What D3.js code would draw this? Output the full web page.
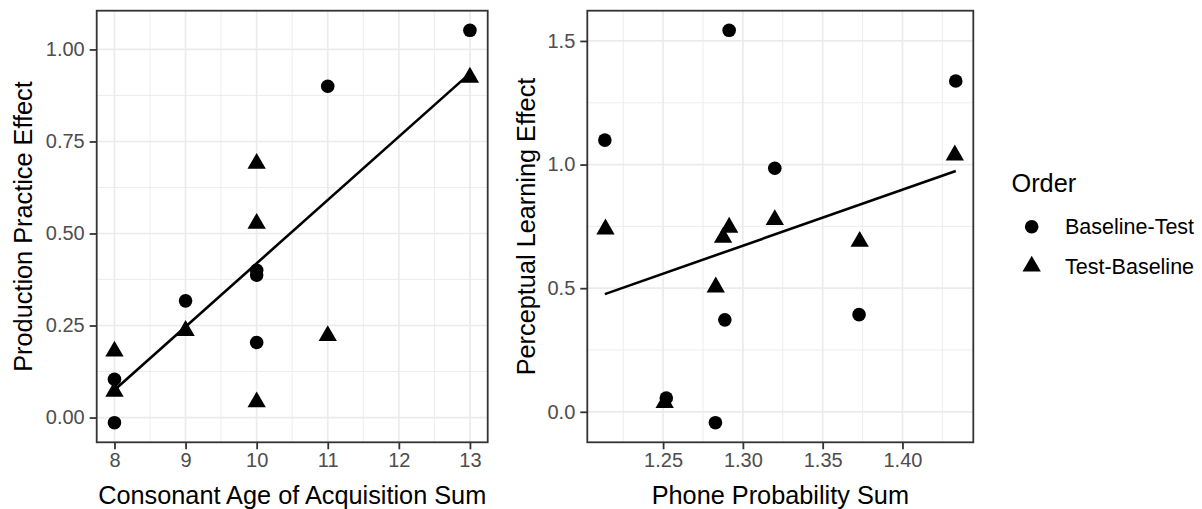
<!DOCTYPE html>
<html>
<head>
<meta charset="utf-8">
<script src="https://cdn.jsdelivr.net/npm/d3@7"></script>
<style>
  body { margin: 0; background: #fff; }
  svg text { font-family: "Liberation Sans", Arial, sans-serif; }
</style>
</head>
<body>
<div id="chart"></div>
<script>
// left panel data (Production Practice)
var leftBTx = [13, 11, 10, 10, 9, 10, 8, 8];
var leftBTy = [1.052, 0.900, 0.400, 0.387, 0.317, 0.204, 0.104, -0.014];
var leftTBx = [13, 10, 10, 9, 11, 8, 8, 10];
var leftTBy = [0.924, 0.690, 0.527, 0.236, 0.222, 0.180, 0.071, 0.042];
var leftFitX = [8, 13];
var leftFitY = [0.075, 0.935];
var leftXTicks = [8, 9, 10, 11, 12, 13];
var leftYTicks = [0, 0.25, 0.5, 0.75, 1];

// right panel data (Perceptual Learning)
var rightBTx = [1.2914, 1.4334, 1.2135, 1.3200, 1.2887, 1.3728, 1.2520, 1.2828];
var rightBTy = [1.543, 1.338, 1.099, 0.985, 0.372, 0.393, 0.056, -0.044];
var rightTBx = [1.4328, 1.2139, 1.2914, 1.2876, 1.3200, 1.3732, 1.2830, 1.2510];
var rightTBy = [1.038, 0.739, 0.746, 0.705, 0.777, 0.689, 0.504, 0.037];
var rightFitX = [1.2135, 1.4334];
var rightFitY = [0.476, 0.974];
var rightXTicks = [1.25, 1.30, 1.35, 1.40];
var rightYTicks = [0, 0.5, 1, 1.5];

var orderLevels = ["Baseline-Test", "Test-Baseline"];

var W = 1202, H = 509;
var R = 6.8; // point radius
var triSize = Math.pow(1.3468 * R / Math.sqrt(3), 2) * 3 * Math.sqrt(3);
var tickCol = "#4D4D4D", gridCol = "#EBEBEB", borderCol = "#333333";

var svg = d3.select('#chart').append('svg')
    .attr('width', W)
    .attr('height', H);

var zip = function (xs, ys, g) {
    return xs.map(function (x, i) { return { x: x, y: ys[i], g: g }; });
};

var padded = function (vals) {
    var e = d3.extent(vals), p = (e[1] - e[0]) * 0.05;
    return [e[0] - p, e[1] + p];
};

var drawPanel = function (o) {
    var pts = zip(o.btx, o.bty, 0).concat(zip(o.tbx, o.tby, 1));
    var x = d3.scaleLinear().domain(padded(pts.map(function (d) { return d.x; }))).range([o.x0, o.x1]);
    var y = d3.scaleLinear().domain(padded(pts.map(function (d) { return d.y; }))).range([o.y1, o.y0]);
    var g = svg.append('g');

    // minor grid at midpoints
    var mid = function (t) {
        var m = [];
        for (var i = 0; i < t.length - 1; i++) m.push((t[i] + t[i + 1]) / 2);
        var s = t[1] - t[0];
        m.unshift(t[0] - s / 2);
        m.push(t[t.length - 1] + s / 2);
        return m;
    };
    var dx = x.domain(), dy = y.domain();
    var mx = mid(o.xt).filter(function (v) { return v >= dx[0] && v <= dx[1]; });
    var my = mid(o.yt).filter(function (v) { return v >= dy[0] && v <= dy[1]; });

    g.selectAll('line.mx').data(mx).enter().append('line')
        .attr('x1', x).attr('x2', x).attr('y1', o.y0).attr('y2', o.y1)
        .attr('stroke', gridCol).attr('stroke-width', 0.9);
    g.selectAll('line.my').data(my).enter().append('line')
        .attr('y1', y).attr('y2', y).attr('x1', o.x0).attr('x2', o.x1)
        .attr('stroke', gridCol).attr('stroke-width', 0.9);
    g.selectAll('line.gx').data(o.xt).enter().append('line')
        .attr('x1', x).attr('x2', x).attr('y1', o.y0).attr('y2', o.y1)
        .attr('stroke', gridCol).attr('stroke-width', 1.7);
    g.selectAll('line.gy').data(o.yt).enter().append('line')
        .attr('y1', y).attr('y2', y).attr('x1', o.x0).attr('x2', o.x1)
        .attr('stroke', gridCol).attr('stroke-width', 1.7);

    // fit line
    g.append('path')
        .datum(zip(o.fx, o.fy, 0))
        .attr('d', d3.line().x(function (d) { return x(d.x); }).y(function (d) { return y(d.y); }))
        .attr('fill', 'none').attr('stroke', '#000').attr('stroke-width', 2.6);

    // points
    g.selectAll('circle.p').data(pts.filter(function (d) { return d.g === 0; }))
        .enter().append('circle')
        .attr('cx', function (d) { return x(d.x); })
        .attr('cy', function (d) { return y(d.y); })
        .attr('r', R).attr('fill', '#000');
    g.selectAll('path.t').data(pts.filter(function (d) { return d.g === 1; }))
        .enter().append('path')
        .attr('d', d3.symbol().type(d3.symbolTriangle).size(triSize))
        .attr('transform', function (d) { return 'translate(' + x(d.x) + ',' + y(d.y) + ')'; })
        .attr('fill', '#000');

    // border
    g.append('rect')
        .attr('x', o.x0).attr('y', o.y0)
        .attr('width', o.x1 - o.x0).attr('height', o.y1 - o.y0)
        .attr('fill', 'none').attr('stroke', borderCol).attr('stroke-width', 1.8);

    // axes
    var xa = g.append('g').attr('transform', 'translate(0,' + o.y1 + ')')
        .call(d3.axisBottom(x).tickValues(o.xt).tickFormat(d3.format(o.xf)).tickSize(7).tickPadding(4));
    var ya = g.append('g').attr('transform', 'translate(' + o.x0 + ',0)')
        .call(d3.axisLeft(y).tickValues(o.yt).tickFormat(d3.format(o.yf)).tickSize(7).tickPadding(5));
    [xa, ya].forEach(function (a) {
        a.select('.domain').remove();
        a.selectAll('.tick line').attr('stroke', borderCol).attr('stroke-width', 1.8);
        a.selectAll('.tick text').attr('fill', tickCol)
            .style('font-size', '20px').style('font-family', '"Liberation Sans", Arial, sans-serif');
    });
    xa.selectAll('.tick text').attr('dy', '0.71em');

    // titles
    g.append('text')
        .attr('x', (o.x0 + o.x1) / 2).attr('y', 504)
        .attr('text-anchor', 'middle').style('font-size', '25.3px')
        .text(o.xtitle);
    g.append('text')
        .attr('transform', 'translate(' + o.ytx + ',' + ((o.y0 + o.y1) / 2) + ') rotate(-90)')
        .attr('text-anchor', 'middle').style('font-size', '25.3px')
        .text(o.ytitle);
};

drawPanel({
    x0: 96.7, x1: 487.7, y0: 10.7, y1: 442.3,
    btx: leftBTx, bty: leftBTy, tbx: leftTBx, tby: leftTBy,
    fx: leftFitX, fy: leftFitY,
    xt: leftXTicks, yt: leftYTicks, xf: 'd', yf: '.2f',
    xtitle: 'Consonant Age of Acquisition Sum',
    ytitle: 'Production Practice Effect', ytx: 32
});

drawPanel({
    x0: 587.3, x1: 973.3, y0: 10.7, y1: 442.3,
    btx: rightBTx, bty: rightBTy, tbx: rightTBx, tby: rightTBy,
    fx: rightFitX, fy: rightFitY,
    xt: rightXTicks, yt: rightYTicks, xf: '.2f', yf: '.1f',
    xtitle: 'Phone Probability Sum',
    ytitle: 'Perceptual Learning Effect', ytx: 535
});

// legend
var leg = svg.append('g');
leg.append('text').attr('x', 1011.5).attr('y', 191.5)
    .style('font-size', '25.3px').text('Order');
var keyY = [226.7, 266.2];
leg.append('circle').attr('cx', 1031.7).attr('cy', keyY[0]).attr('r', R).attr('fill', '#000');
leg.append('path')
    .attr('d', d3.symbol().type(d3.symbolTriangle).size(triSize))
    .attr('transform', 'translate(1031.7,' + keyY[1] + ')').attr('fill', '#000');
leg.selectAll('text.lab').data(orderLevels).enter().append('text')
    .attr('x', 1065)
    .attr('y', function (d, i) { return keyY[i] + 7.6; })
    .style('font-size', '21.5px')
    .text(function (d) { return d; });
</script>
</body>
</html>
